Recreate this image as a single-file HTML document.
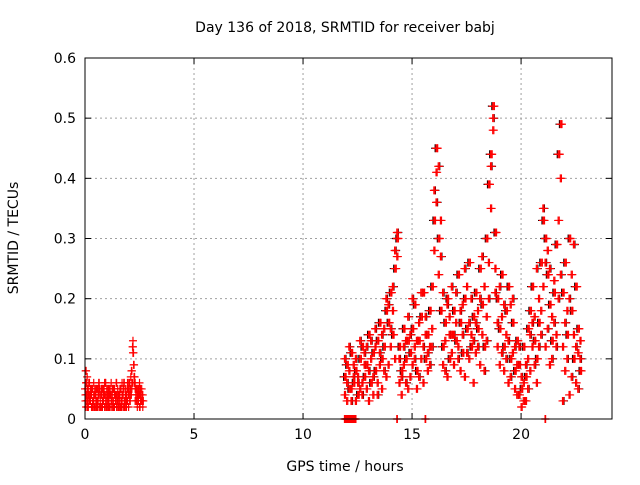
<!DOCTYPE html>
<html><head><meta charset="utf-8"><style>
body{margin:0;background:#fff}
svg text{font-family:"DejaVu Sans","Liberation Sans",sans-serif;font-size:14px;fill:#000}
</style></head><body>
<svg id="chart" width="640" height="480" xmlns="http://www.w3.org/2000/svg">
<rect width="640" height="480" fill="#fff"/>
<g id="grid"></g>
<g id="pts"></g>
<rect x="85" y="58" width="527" height="361" fill="none" stroke="#000" stroke-width="1"/>
<g id="ticks"></g>
<text x="345" y="32" text-anchor="middle">Day 136 of 2018, SRMTID for receiver babj</text>
<text x="345" y="471" text-anchor="middle">GPS time / hours</text>
<text transform="translate(18,238) rotate(-90)" text-anchor="middle">SRMTID / TECUs</text>
</svg>
<script>
const xTicks=[0,5,10,15,20];
const yTicks=[0,0.1,0.2,0.3,0.4,0.5,0.6];
const tA=[0.02,0.05,0.08,0.1,0.12,0.15,0.18,0.2,0.25,0.3,0.35,0.4,0.45,0.5,0.55,0.6,0.65,0.7,0.75,0.8,0.85,0.9,0.95,1.0,1.05,1.1,1.15,1.2,1.25,1.3,1.35,1.4,1.45,1.5,1.55,1.6,1.65,1.7,1.75,1.8,1.85,1.9,1.95,2.0,2.05,2.1,2.15,2.2,2.25,2.3,2.35,2.4,2.45,2.5,2.55,2.6,2.65];
const vA1=[.05,.08,.06,.04,.03,.05,.04,.06,.03,.04,.05,.03,.02,.04,.05,.03,.06,.04,.02,.05,.03,.04,.06,.02,.04,.03,.05,.04,.02,.03,.05,.04,.06,.03,.02,.04,.05,.03,.04,.06,.03,.02,.05,.04,.06,.05,.08,.12,.09,.06,.04,.05,.03,.04,.05,.03,.04];
const vA2=[.03,.02,.04,.07,.05,.02,.03,.04,.05,.02,.03,.06,.04,.02,.03,.05,.02,.03,.05,.02,.04,.06,.03,.05,.02,.04,.02,.06,.04,.05,.02,.03,.04,.05,.04,.02,.03,.06,.02,.03,.05,.04,.03,.02,.04,.07,.05,.13,.06,.03,.05,.02,.04,.06,.03,.05,.02];
const vA3=[.04,.06,.03,.05,.02,.04,.06,.03,.04,.05,.02,.04,.05,.03,.02,.04,.05,.02,.04,.03,.05,.02,.04,.03,.05,.02,.04,.03,.05,.02,.04,.03,.02,.04,.03,.05,.02,.04,.05,.02,.04,.03,.06,.05,.03,.04,.06,.11,.07,.05,.03,.04,.05,.02,.04,.03,.03];
const tB=[11.9,12,12.1,12.2,12.3,12.4,12.5,12.6,12.7,12.8,12.9,13,13.1,13.2,13.3,13.4,13.5,13.6,13.7,13.8,13.9,14,14.1,14.2,14.3,14.4,14.5,14.6,14.7,14.8,14.9,15,15.1,15.2,15.3,15.4,15.5,15.6,15.7,15.8,15.9,16,16.1,16.2,16.3,16.4,16.5,16.6,16.7,16.8,16.9,17,17.1,17.2,17.3,17.4,17.5,17.6,17.7,17.8,17.9,18,18.1,18.2,18.3,18.4,18.5,18.6,18.7,18.8,18.9,19,19.1,19.2,19.3,19.4,19.5,19.6,19.7,19.8,19.9,20,20.1,20.2,20.3,20.4,20.5,20.6,20.7,20.8,20.9,21,21.1,21.2,21.3,21.4,21.5,21.6,21.7,21.8,21.9,22,22.1,22.2,22.3,22.4,22.5,22.6,22.7];
const vB1=[.07,.09,.05,.11,.06,.08,.04,.10,.12,.07, .09,.14,.06,.11,.08,.13,.16,.10,.12,.18, .16,.21,.14,.25,.30,.12,.08,.15,.10,.13, .11,.15,.19,.08,.13,.17,.21,.10,.14,.18, .22,.33,.45,.30,.18,.12,.16,.20,.10,.14, .18,.13,.24,.16,.11,.20,.15,.26,.12,.17, .21,.15,.25,.19,.12,.30,.39,.44,.52,.31, .20,.15,.24,.12,.18,.22,.10,.16,.08,.13, .09,.05,.12,.07,.15,.18,.22,.13,.10,.16, .26,.33,.30,.24,.19,.13,.21,.29,.44,.49, .21,.26,.14,.30,.18,.10,.22,.15,.08];
const vB2=[.04,.03,.08,.05,.09,.03,.07,.05,.06,.09, .05,.03,.10,.04,.12,.06,.09,.05,.15,.07, .09,.12,.18,.10,.27,.06,.04,.09,.13,.05, .07,.09,.12,.05,.16,.10,.06,.14,.08,.12, .15,.28,.41,.24,.33,.09,.13,.07,.17,.11, .09,.16,.12,.08,.19,.07,.22,.10,.14,.06, .11,.18,.09,.14,.22,.17,.26,.35,.48,.25, .12,.09,.17,.08,.14,.06,.19,.11,.05,.09, .04,.02,.06,.03,.10,.08,.12,.17,.06,.20, .18,.22,.12,.28,.09,.17,.23,.14,.33,.40, .12,.08,.18,.04,.24,.14,.06,.11,.13];
const vB3=[.10,.06,.12,.03,.07,.10,.06,.13,.04,.11, .12,.08,.13,.07,.15,.04,.11,.14,.08,.20, .19,.15,.22,.28,.31,.10,.07,.12,.06,.17, .14,.20,.10,.13,.07,.21,.12,.17,.11,.09, .12,.38,.36,.42,.27,.21,.08,.19,.14,.22, .14,.21,.10,.18,.14,.25,.11,.16,.20,.13, .16,.12,.20,.27,.08,.13,.20,.42,.50,.21, .16,.22,.11,.19,.10,.13,.07,.20,.12,.04, .12,.07,.03,.09,.05,.14,.16,.09,.25,.12, .14,.35,.26,.15,.25,.10,.16,.12,.20,.24, .03,.16,.10,.20,.07,.29,.12,.05,.10];
const tZero=[11.9,11.95,12.0,12.05,12.1,12.15,12.2,12.25,12.3,12.35,12.4,14.3,15.6,21.1];
const vZero=[0,0,0,0,0,0,0,0,0,0,0,0,0,0];

const X0=85,X1=612,Y0=419,Y1=58,XMAX=24.17,YMAX=0.6;
const sx=t=>X0+t/XMAX*(X1-X0);
const sy=v=>Y0-v/YMAX*(Y0-Y1);
const NS='http://www.w3.org/2000/svg';
const grid=document.getElementById('grid'),ticks=document.getElementById('ticks'),pts=document.getElementById('pts');
function mk(tag,at,parent){const e=document.createElementNS(NS,tag);for(const k in at)e.setAttribute(k,at[k]);parent.appendChild(e);return e;}
xTicks.forEach(t=>{
  const x=sx(t);
  if(t>0){const g=mk('line',{x1:x,x2:x,y1:Y1,y2:Y0,stroke:'#a0a0a0','stroke-dasharray':'2,3'},grid);
  
  }
  mk('line',{x1:x,x2:x,y1:Y0,y2:Y0-6,stroke:'#000'},ticks);
  mk('line',{x1:x,x2:x,y1:Y1,y2:Y1+6,stroke:'#000'},ticks);
  const l=mk('text',{x:x,y:Y0+20,'text-anchor':'middle'},ticks);l.textContent=t;
  
  
});
yTicks.forEach(v=>{
  const y=sy(v);
  if(v>0&&v<0.6){const g=mk('line',{x1:X0,x2:X1,y1:y,y2:y,stroke:'#a0a0a0','stroke-dasharray':'2,3'},grid);
  
  }
  mk('line',{x1:X0,x2:X0+6,y1:y,y2:y,stroke:'#000'},ticks);
  mk('line',{x1:X1,x2:X1-6,y1:y,y2:y,stroke:'#000'},ticks);
  const l=mk('text',{x:X0-9,y:y+5,'text-anchor':'end'},ticks);l.textContent=v===0?'0':v.toFixed(1);
  
  
});
function plot(ts,vs,color,dt){
  const n=Math.min(ts.length,vs.length);
  for(let i=0;i<n;i++){
    const x=sx(ts[i]+dt),y=sy(vs[i]);
    const p=mk('path',{d:`M${x-4},${y}h8M${x},${y-4}v8`,stroke:color,'stroke-width':1.2,fill:'none'},pts);
    
    
  }
}
plot(tB,vB3,'#000',0.07);plot(tB,vB1,'#000',-0.04);
[vA1,vA2,vA3].forEach(v=>{plot(tA,v,'#f00',0);});
plot(tA,vA3,'#f00',0.025);plot(tA,vA1,'#f00',-0.02);
[vB1,vB2,vB3].forEach(v=>{plot(tB,v,'#f00',0);plot(tB,v,'#f00',0.05);});
plot(tB,vB1,'#f00',0.075);
plot(tZero,vZero,'#f00',0);
plot(tZero,vZero,'#f00',0.025);
</script>
</body></html>
